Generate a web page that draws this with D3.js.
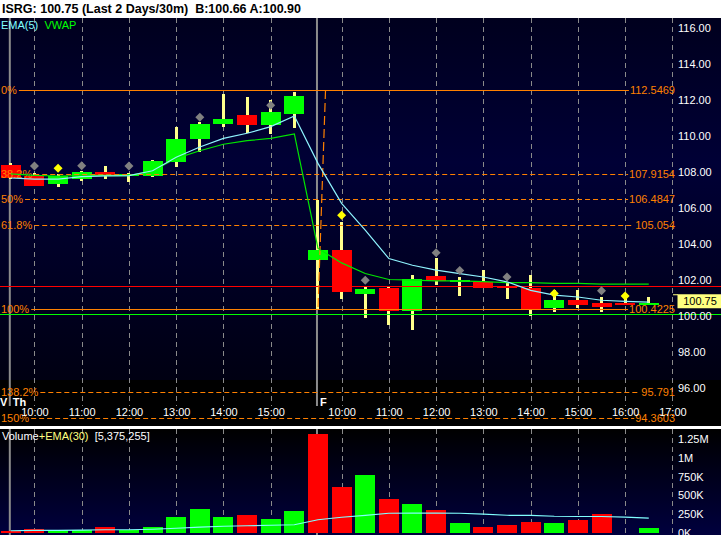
<!DOCTYPE html>
<html><head><meta charset="utf-8">
<script src="https://cdn.jsdelivr.net/npm/d3@7"></script>
<style>
html,body{margin:0;padding:0;background:#fff;overflow:hidden}
text{font-family:Arial,"Liberation Sans",sans-serif;white-space:pre}
</style>
</head><body>
<svg id="c" width="721" height="535"></svg>
<script>
// ---------- DATA ----------
const title = "ISRG: 100.75 (Last 2 Days/30m)  B:100.66 A:100.90";
const slots = ["Th 09:30","Th 10:00","Th 10:30","Th 11:00","Th 11:30","Th 12:00","Th 12:30","Th 13:00","Th 13:30","Th 14:00","Th 14:30","Th 15:00","Th 15:30",
  "F 09:30","F 10:00","F 10:30","F 11:00","F 11:30","F 12:00","F 12:30","F 13:00","F 13:30","F 14:00","F 14:30","F 15:00","F 15:30","F 16:00","F 16:30","F 17:00"];
const openP  = [108.39,107.79,107.32,107.63,108.00,107.78,107.79,108.57,109.85,110.68,111.17,110.61,111.22, 103.11,103.67,101.22,101.57,100.29,102.22,101.89,101.91,101.63,101.57,100.46,100.89,100.71,100.72,100.61];
const highP  = [108.50,107.93,107.87,108.07,108.33,107.94,108.67,110.48,110.76,112.33,112.15,112.00,112.45, 106.44,105.24,101.63,101.63,102.28,103.21,102.18,102.56,101.85,102.28,101.44,101.44,101.07,101.00,101.07];
const lowP   = [107.59,107.20,107.18,107.52,107.59,107.46,107.74,108.26,109.09,110.52,110.18,110.09,110.43, 100.43,100.98, 99.93, 99.54, 99.26,101.72,101.13,101.55,100.98,100.02,100.24,100.48,100.21,100.60,100.61];
const closeP = [107.68,107.24,107.79,108.00,107.85,107.90,108.61,109.83,110.67,110.94,110.63,111.33,112.24, 103.67,101.35,101.50,100.29,102.06,101.94,102.00,101.57,101.56,100.43,100.89,100.61,100.50,100.63,100.75];
const ema5   = [107.67,107.61,107.61,107.75,107.79,107.80,108.07,108.82,109.39,109.87,110.15,110.52,111.11, 108.48,106.26,104.78,103.20,102.83,102.56,102.37,102.18,101.91,101.44,101.17,101.07,100.89,100.83,100.79];
const vwap   = [107.90,107.82,107.78,107.80,107.82,107.80,108.06,108.76,109.18,109.54,109.74,109.87,110.11, 103.76,102.96,102.37,102.04,102.00,101.96,101.96,101.92,101.87,101.87,101.83,101.82,101.78,101.78,101.78];
const volume = [20000,53000,36000,36000,80000,36000,71000,204000,320000,213000,231000,187000,284000, 1311000,604000,773000,453000,387000,297000,133000,80000,107000,147000,133000,164000,253000,0,67000];
const volEma = [27000,31000,33000,36000,40000,40000,47000,60000,76000,87000,93000,100000,107000, 173000,207000,231000,260000,263000,263000,260000,249000,233000,231000,220000,217000,217000,209000,196000];
const markerType  = [null,"g","y","g",null,"g",null,null,"g",null,null,"g",null, null,"y","g",null,null,"g","g",null,"g",null,"y",null,"g","y",null];
const markerPrice = [null,108.33,108.21,108.35,null,108.33,null,null,111.04,null,null,111.71,null, null,105.61,102.00,null,null,103.53,102.54,null,102.18,null,101.26,null,101.41,101.13,null];
const fibNames  = ["0%","38.2%","50%","61.8%","100%","138.2%","150%"];
const fibPrices = [112.5469,107.9154,106.4847,105.054,100.4225,95.791,94.3603];
const fibValueLabels = ["112.5469","107.9154","106.4847","105.054","100.4225","95.791","94.3603"];
const fibSolid  = [true,false,false,false,true,false,false];
const fibTrend  = [{bar:13.32, price:112.5469},{bar:13.0, price:100.4225}];
const redLevel = 101.68, greenLevel = 100.11;
const lastPrice = 100.75;
const priceTicks = [96,98,100,102,104,106,108,110,112,114,116];
const volTicks = [0,250000,500000,750000,1000000,1250000];
const dayLabels = [{slot:0, label:"Th", prev:"V"},{slot:13, label:"F", prev:""}];
const volTotal = "[5,375,255]";

// ---------- LAYOUT ----------
const svg = d3.select("#c");
const W = 721, H = 535;
const x = d3.scaleLinear().domain([0, slots.length-1]).range([10.8, 672.4]);
const y = d3.scaleLinear().domain([96,116]).range([388.4, 27.8]);
const yv = d3.scaleLinear().domain([0,1250000]).range([532.75, 439]);
const bw = 20;
const priceTop = 18, priceBgBottom = 380, gridBottom = 406, volTop = 429;

const defs = svg.append("defs");
const g1 = defs.append("linearGradient").attr("id","pbg").attr("x1",0).attr("y1",0).attr("x2",0).attr("y2",1);
g1.append("stop").attr("offset",0).attr("stop-color","#00001e");
g1.append("stop").attr("offset",0.4).attr("stop-color","#000036");
g1.append("stop").attr("offset",1).attr("stop-color","#000012");
const g2 = defs.append("linearGradient").attr("id","vbg").attr("x1",0).attr("y1",0).attr("x2",0).attr("y2",1);
g2.append("stop").attr("offset",0).attr("stop-color","#000000");
g2.append("stop").attr("offset",1).attr("stop-color","#00003e");

svg.append("rect").attr("x",0).attr("y",0).attr("width",W).attr("height",priceTop).attr("fill","#fff");
svg.append("rect").attr("x",0).attr("y",priceTop).attr("width",W).attr("height",priceBgBottom-priceTop).attr("fill","url(#pbg)");
svg.append("rect").attr("x",0).attr("y",priceBgBottom).attr("width",W).attr("height",426-priceBgBottom).attr("fill","#000");
svg.append("rect").attr("x",0).attr("y",426).attr("width",W).attr("height",3).attr("fill","#fff");
svg.append("rect").attr("x",0).attr("y",volTop).attr("width",W).attr("height",H-volTop).attr("fill","url(#vbg)");

// header
svg.append("text").attr("x",2).attr("y",13).attr("font-size","12.5px").attr("font-weight","bold").attr("fill","#000").text(title);

// grid
const hourIdx = slots.map((s,i)=>i).filter(i=>slots[i].endsWith(":00"));
const grid = svg.append("g").attr("stroke","#8a8a8a").attr("stroke-width",1).attr("stroke-dasharray","5,4");
hourIdx.forEach(i=>{
  const xx = Math.round(x(i))+0.5;
  grid.append("line").attr("x1",xx).attr("x2",xx).attr("y1",priceTop).attr("y2",gridBottom);
  grid.append("line").attr("x1",xx).attr("x2",xx).attr("y1",volTop).attr("y2",H);
});
dayLabels.forEach(d=>{
  const xx = x(d.slot)-1;
  [[priceTop,gridBottom],[volTop,H]].forEach(r=>svg.append("line").attr("x1",xx).attr("x2",xx).attr("y1",r[0]).attr("y2",r[1]).attr("stroke","#8c8c8c").attr("stroke-width",2));
});

// candles
const bars = openP.map((o,i)=>({i,o,h:highP[i],l:lowP[i],c:closeP[i]}));
const cg = svg.append("g").attr("shape-rendering","crispEdges");
cg.selectAll(".wick").data(bars).join("rect")
  .attr("x",d=>x(d.i)-1.5).attr("width",3)
  .attr("y",d=>y(d.h)).attr("height",d=>Math.max(1,y(d.l)-y(d.h))).attr("fill","#ffff8c");
cg.selectAll(".body").data(bars).join("rect")
  .attr("x",d=>x(d.i)-bw/2).attr("width",bw)
  .attr("y",d=>y(Math.max(d.o,d.c))).attr("height",d=>Math.max(1.5,Math.abs(y(d.o)-y(d.c))))
  .attr("fill",d=>d.c>=d.o?"#00ff00":"#ff0000");

// level lines
[[redLevel,"#ff0000"],[greenLevel,"#00ff00"]].forEach(([p,c])=>{
  svg.append("line").attr("x1",0).attr("x2",W).attr("y1",Math.round(y(p))+0.5).attr("y2",Math.round(y(p))+0.5).attr("stroke",c).attr("stroke-width",1);
});

// fib
const fg = svg.append("g");
fibPrices.forEach((p,k)=>{
  const yy = Math.round(y(p))+0.5;
  const lt = fg.append("text").attr("x",1).attr("y",yy).attr("dy","0.35em").attr("font-size","11px").attr("fill","#ff8000").text(fibNames[k]);
  const rt = fg.append("text").attr("x",675).attr("y",yy).attr("dy","0.35em").attr("text-anchor","end").attr("font-size","11px").attr("fill","#ff8000").text(fibValueLabels[k]);
  const x1 = 1 + lt.node().getComputedTextLength() + 2;
  const x2 = 675 - rt.node().getComputedTextLength() - 1;
  fg.insert("line","text").attr("x1",x1).attr("x2",x2).attr("y1",yy).attr("y2",yy)
    .attr("stroke","#ff8000").attr("stroke-width",1).attr("stroke-dasharray",fibSolid[k]?null:"5,3");
});
fg.append("line").attr("x1",x(fibTrend[0].bar)).attr("y1",y(fibTrend[0].price)).attr("x2",x(fibTrend[1].bar)).attr("y2",y(fibTrend[1].price))
  .attr("stroke","#ff8000").attr("stroke-width",1.2).attr("stroke-dasharray","9,4");

// indicator lines
const line = d3.line().x((d,i)=>x(i)).y(d=>y(d));
svg.append("path").attr("d",line(vwap)).attr("fill","none").attr("stroke","#00e600").attr("stroke-width",1.2);
svg.append("path").attr("d",line(ema5)).attr("fill","none").attr("stroke","#8ff4ff").attr("stroke-width",1.2);

// markers
const mk = bars.filter(d=>markerType[d.i]);
svg.selectAll(".mk").data(mk).join("path")
  .attr("d","M0,-4.5L4.5,0L0,4.5L-4.5,0Z")
  .attr("transform",d=>`translate(${x(d.i)},${y(markerPrice[d.i])})`)
  .attr("fill",d=>markerType[d.i]==="y"?"#ffff00":"#808080");

// legend
const lg = svg.append("text").attr("x",1).attr("y",25).attr("dy","0.35em").attr("font-size","11px");
lg.append("tspan").attr("fill","#80ffff").text("EMA(5)");
lg.append("tspan").attr("fill","#00ff00").text("  VWAP");

// price axis
const ya = svg.append("g").attr("transform","translate(674,0)")
  .call(d3.axisRight(y).tickValues(priceTicks).tickFormat(d3.format(".2f")).tickSize(0).tickPadding(4));
ya.select(".domain").remove();
ya.selectAll("text").attr("fill","#fff").attr("font-size","11px").attr("font-family",null);

// last price label
const lpY = y(lastPrice);
svg.append("line").attr("x1",673).attr("x2",678).attr("y1",lpY-8).attr("y2",lpY-8).attr("stroke","#ffff80");
svg.append("rect").attr("x",677.5).attr("y",lpY-8.5).attr("width",44).attr("height",14).attr("fill","#ffff80");
svg.append("text").attr("x",700).attr("y",lpY-1.5).attr("dy","0.35em").attr("text-anchor","middle").attr("font-size","11px").attr("fill","#000").text(lastPrice.toFixed(2));

// x axis
const xa = svg.append("g").attr("transform",`translate(0,404)`)
  .call(d3.axisBottom(x).tickValues(hourIdx).tickFormat(i=>slots[i].split(" ")[1]).tickSize(0).tickPadding(4));
xa.select(".domain").remove();
xa.selectAll("text").attr("fill","#fff").attr("font-size","11px").attr("font-family",null);
dayLabels.forEach(d=>{
  if (d.prev) svg.append("text").attr("x",0).attr("y",402).attr("dy","0.35em").attr("font-size","11px").attr("font-weight","bold").attr("fill","#fff").text(d.prev);
  svg.append("text").attr("x",x(d.slot)+2).attr("y",402).attr("dy","0.35em").attr("font-size","11px").attr("font-weight","bold").attr("fill","#fff").text(d.label);
});

// volume
const vg = svg.append("g").attr("shape-rendering","crispEdges");
vg.selectAll("rect").data(bars.filter(d=>volume[d.i]>0)).join("rect")
  .attr("x",d=>x(d.i)-bw/2).attr("width",bw)
  .attr("y",d=>yv(volume[d.i])).attr("height",d=>yv(0)-yv(volume[d.i]))
  .attr("fill",d=>{ const up = d.i===0 ? d.c>=d.o : d.c>=closeP[d.i-1]; return up?"#00ff00":"#ff0000"; });
svg.append("path").attr("d",d3.line().x((d,i)=>x(i)).y(d=>yv(d))(volEma)).attr("fill","none").attr("stroke","#80ffff").attr("stroke-width",1.2);
const va = svg.append("g").attr("transform","translate(674,0)")
  .call(d3.axisRight(yv).tickValues(volTicks).tickFormat(v=>v===0?"0K":(v>=1e6?(v/1e6)+"M":(v/1e3)+"K")).tickSize(0).tickPadding(4));
va.select(".domain").remove();
va.selectAll("text").attr("fill","#fff").attr("font-size","11px").attr("font-family",null);
const vl = svg.append("text").attr("x",2).attr("y",436).attr("dy","0.35em").attr("font-size","11px");
vl.append("tspan").attr("fill","#fff").text("Volume");
vl.append("tspan").attr("fill","#ffff80").text("+EMA(30)");
vl.append("tspan").attr("fill","#fff").text("  "+volTotal);
</script>
</body></html>
